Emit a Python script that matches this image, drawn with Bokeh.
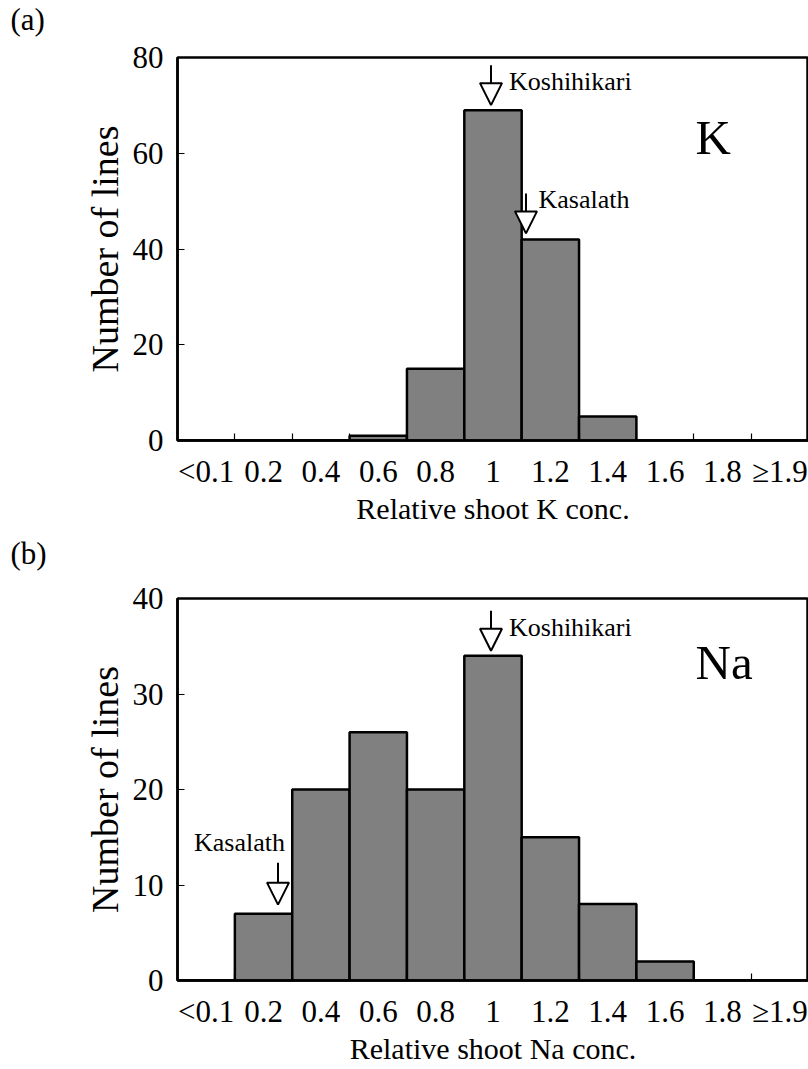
from bokeh.plotting import figure
from bokeh.layouts import column
from bokeh.models import Range1d, FixedTicker, Label, Arrow, NormalHead, Title
from bokeh.embed import file_html
from bokeh.resources import INLINE

# ---- data ----
categories = ["<0.1", "0.2", "0.4", "0.6", "0.8", "1", "1.2", "1.4", "1.6", "1.8", "\u22651.9"]
k_counts = [0, 0, 0, 1, 15, 69, 42, 5, 0, 0, 0]
na_counts = [0, 7, 20, 26, 20, 34, 15, 8, 2, 0, 0]
k_yticks = [0, 20, 40, 60, 80]
na_yticks = [0, 10, 20, 30, 40]
# arrows: (name, x position in bin units, count of the bar below)
k_marks = [("Koshihikari", 5.465, 69), ("Kasalath", 6.075, 42)]
na_marks = [("Koshihikari", 5.465, 34), ("Kasalath", 1.752, 7)]

FONT = "Liberation Serif"
W = 808
LEFT = 177


def tag_strip(text, height, standoff):
    s = figure(width=W, height=height, output_backend="svg", toolbar_location=None,
               x_range=Range1d(0, 1), y_range=Range1d(0, 1),
               x_axis_type=None, y_axis_type=None,
               min_border_left=LEFT, min_border_right=0,
               min_border_top=0, min_border_bottom=0)
    s.grid.visible = False
    s.outline_line_color = None
    s.add_layout(Title(text=text, align="left", offset=-(LEFT - 10), standoff=standoff,
                       vertical_align="top",
                       text_font=FONT, text_font_size="31px", text_font_style="normal",
                       text_color="black"), "above")
    return s


def make_panel(counts, yticks, marks, xlabel, big, height, top, bottom, frame_h,
               label_specs):
    n = len(categories)
    ymax = yticks[-1]
    p = figure(width=W, height=height, output_backend="svg", toolbar_location=None,
               x_range=Range1d(0, n), y_range=Range1d(0, ymax),
               min_border_left=LEFT, min_border_right=0,
               min_border_top=top, min_border_bottom=bottom)
    p.grid.visible = False
    p.outline_line_color = "black"
    p.outline_line_width = 2.5
    p.outline_line_alpha = 1
    p.background_fill_color = "white"
    p.border_fill_color = "white"

    lefts = list(range(n))
    rights = [i + 1 for i in range(n)]
    p.quad(left=lefts, right=rights, bottom=0, top=counts,
           fill_color="#808080", line_color="black", line_width=2.5)

    # x axis
    xa = p.xaxis[0]
    xa.ticker = FixedTicker(ticks=[i + 0.5 for i in range(n)],
                            minor_ticks=[i for i in range(1, n)])
    xa.major_label_overrides = {i + 0.5: c for i, c in enumerate(categories)}
    xa.major_tick_in = 0
    xa.major_tick_out = 0
    xa.minor_tick_in = 7
    xa.minor_tick_out = 0
    xa.minor_tick_line_width = 1.2
    xa.axis_line_width = 2.5
    xa.major_label_text_font = FONT
    xa.major_label_text_font_size = "31px"
    xa.major_label_text_color = "black"
    xa.major_label_standoff = 13
    xa.axis_label = xlabel
    xa.axis_label_text_font = FONT
    xa.axis_label_text_font_size = "30px"
    xa.axis_label_text_font_style = "normal"
    xa.axis_label_text_color = "black"
    xa.axis_label_standoff = 0

    # y axis
    ya = p.yaxis[0]
    ya.ticker = FixedTicker(ticks=yticks, minor_ticks=[])
    ya.major_tick_in = 7
    ya.major_tick_out = 0
    ya.major_tick_line_width = 1.2
    ya.minor_tick_in = 0
    ya.minor_tick_out = 0
    ya.axis_line_width = 2.5
    ya.major_label_text_font = FONT
    ya.major_label_text_font_size = "31px"
    ya.major_label_text_color = "black"
    ya.major_label_standoff = 14
    ya.axis_label = "Number of lines"
    ya.axis_label_text_font = FONT
    ya.axis_label_text_font_size = "38px"
    ya.axis_label_text_font_style = "normal"
    ya.axis_label_text_color = "black"
    ya.axis_label_standoff = 4

    px_per_unit = frame_h / ymax
    for (name, x, cnt), spec in zip(marks, label_specs):
        gap, length, tx, ty, align = spec
        y_end = cnt + gap / px_per_unit
        y_start = y_end + length / px_per_unit
        p.add_layout(Arrow(x_start=x, y_start=y_start, x_end=x, y_end=y_end,
                           line_color="black", line_width=2,
                           end=NormalHead(size=22, fill_color="white",
                                          line_color="black", line_width=2)))
        p.add_layout(Label(x=x, y=cnt, x_offset=tx, y_offset=ty, text=name,
                           text_font=FONT, text_font_size="26px", text_color="black",
                           text_align=align, text_baseline="middle"))

    # element symbol
    p.add_layout(Label(x=big[1], y=big[2], x_units="screen", y_units="screen",
                       text=big[0], text_font=FONT, text_font_size="49px",
                       text_color="black", text_align="left", text_baseline="middle"))
    return p


sa = tag_strip("(a)", 40, 2)
pa = make_panel(k_counts, k_yticks, k_marks, "Relative shoot K conc.",
                ("K", 518, 303), 490, 17, 90, 383,
                [(5, 40, 18, 28.7, "left"), (6, 40, 12.5, 39.9, "left")])
sb = tag_strip("(b)", 50, 11)
pb = make_panel(na_counts, na_yticks, na_marks, "Relative shoot Na conc.",
                ("Na", 518, 318), 489, 18, 89, 382,
                [(5, 40, 18, 28, "left"), (9, 42, -38.5, 71.5, "center")])

layout = column(sa, pa, sb, pb, spacing=0)
open("out.html", "w").write(file_html(layout, INLINE))
